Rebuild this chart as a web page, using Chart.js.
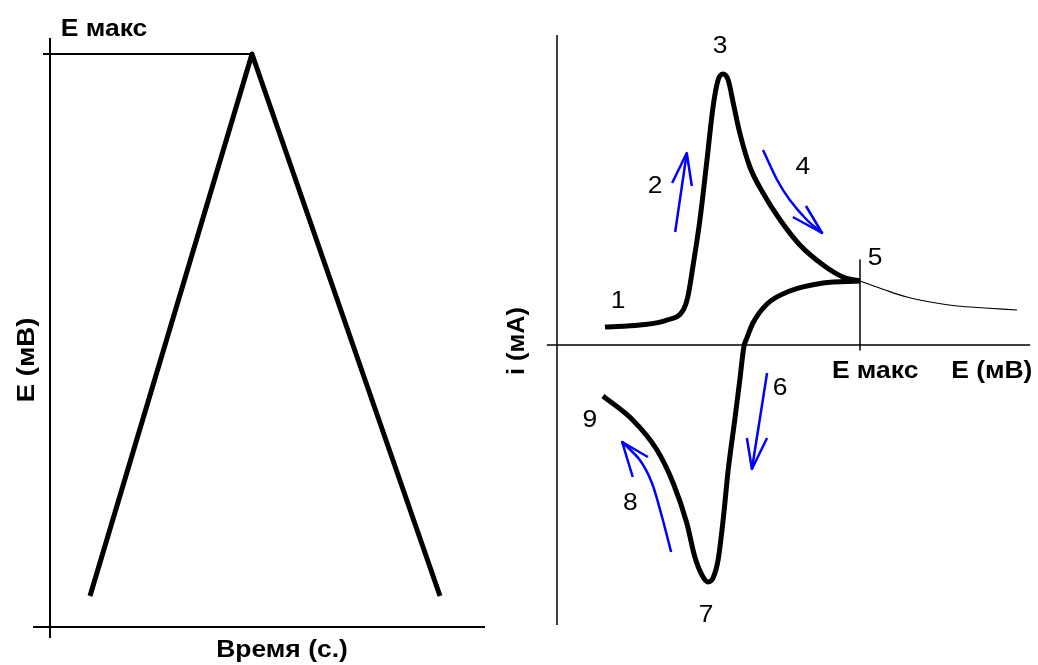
<!DOCTYPE html>
<html>
<head>
<meta charset="utf-8">
<script src="https://cdn.jsdelivr.net/npm/chart.js@4"></script>
<style>
  html, body { margin: 0; padding: 0; background: #fff; }
  canvas { display: block; }
</style>
</head>
<body>
<canvas id="grafico" width="1038" height="665"></canvas>
<script>
// Развёртка потенциала: время (с) и потенциал (мВ)
var tempo = [1, 5.05, 9.75];
var potencial = [27, 500, 27];
var Emax = 500;

// Циклическая вольтамперограмма: прямой ход (E, мВ / i, мА)
var eIda = [95, 164, 218, 250, 259, 269, 283, 297, 309, 319, 329, 339, 349, 362, 382, 408, 442, 481, 527, 566, 600];
var iIda = [0.18, 0.20, 0.25, 0.35, 0.48, 0.78, 1.25, 1.85, 2.38, 2.65, 2.71, 2.65, 2.42, 2.12, 1.78, 1.52, 1.25, 1.00, 0.80, 0.68, 0.64];

// обратный ход
var eVolta = [600, 527, 461, 416, 388, 376, 370, 362, 352, 339, 329, 319, 309, 299, 287, 273, 257, 230, 198, 150, 91];
var iVolta = [0.64, 0.62, 0.54, 0.41, 0.22, 0.07, -0.02, -0.35, -0.75, -1.25, -1.75, -2.15, -2.33, -2.37, -2.30, -2.12, -1.78, -1.38, -1.05, -0.75, -0.51];

// продолжение без обращения развёртки
var eCauda = [600, 650, 693, 739, 792, 848, 911];
var iCauda = [0.64, 0.55, 0.48, 0.43, 0.39, 0.37, 0.35];
var EmaxCV = 600;

// синие стрелки: стержень и наконечник
var setas = [
  { e: [234, 257], i: [1.13, 1.92], pe: [228, 257, 267], pi: [1.62, 1.92, 1.59] },
  { e: [408, 436, 461, 495, 525], i: [1.95, 1.65, 1.45, 1.25, 1.12], pe: [467, 525, 493], pi: [1.28, 1.12, 1.39] },
  { e: [416, 386], i: [-0.28, -1.24], pe: [376, 386, 416], pi: [-0.93, -1.24, -0.93] },
  { e: [226, 208, 188, 164, 129], i: [-2.07, -1.72, -1.38, -1.15, -0.97], pe: [150, 129, 180], pi: [-1.32, -0.97, -1.12] }
];

// номера точек кривой
var numeros = ['1', '2', '3', '4', '5', '6', '7', '8', '9'];
var numerosE = [121, 194, 323, 487, 630, 442, 295, 145, 65];
var numerosI = [0.37, 1.52, 2.92, 1.71, 0.80, -0.50, -2.77, -1.65, -0.82];

function pontos(xs, ys) {
    return xs.map(function (x, k) { return { x: x, y: ys[k] }; });
}

function linha(data, eixoX, eixoY, largura, cor, tensao) {
    return {
        data: data,
        xAxisID: eixoX,
        yAxisID: eixoY,
        showLine: true,
        borderColor: cor || '#000',
        borderWidth: largura,
        pointRadius: 0,
        tension: tensao || 0,
        borderCapStyle: 'butt',
        borderJoinStyle: 'round',
        clip: false,
        fill: false
    };
}

function curva(data, largura) {
    var d = linha(data, 'xE', 'yI', largura);
    d.cubicInterpolationMode = 'monotone';
    return d;
}

var datasets = [
    // оси левого графика
    linha([{ x: 0, y: -9.6 }, { x: 0, y: 514 }], 'xT', 'yE', 2),
    linha([{ x: -0.425, y: 0 }, { x: 10.875, y: 0 }], 'xT', 'yE', 2),
    linha([{ x: -0.175, y: Emax }, { x: 5.05, y: Emax }], 'xT', 'yE', 2),
    linha(pontos(tempo, potencial), 'xT', 'yE', 5),
    // оси правого графика
    linha([{ x: 0, y: -2.8 }, { x: 0, y: 3.1 }], 'xE', 'yI', 1.5),
    linha([{ x: -20, y: 0 }, { x: 937, y: 0 }], 'xE', 'yI', 1.5),
    linha([{ x: EmaxCV, y: 0.85 }, { x: EmaxCV, y: -0.05 }], 'xE', 'yI', 1.5),
    curva(pontos(eCauda, iCauda), 1.2),
    curva(pontos(eIda, iIda), 5),
    curva(pontos(eVolta, iVolta), 5)
];

setas.forEach(function (s) {
    datasets.push(linha(pontos(s.e, s.i), 'xE', 'yI', 2.5, '#0000ff', 0.3));
    datasets.push(linha(pontos(s.pe, s.pi), 'xE', 'yI', 2.5, '#0000ff', 0));
});

function texto(ctx, t, x, y, fonte, esticar, girar, base) {
    ctx.save();
    ctx.translate(x, y);
    if (girar) ctx.rotate(-Math.PI / 2);
    ctx.scale(esticar, 1);
    ctx.font = fonte;
    ctx.fillStyle = '#000';
    ctx.textAlign = 'center';
    ctx.textBaseline = base || 'alphabetic';
    ctx.fillText(t, 0, 0);
    ctx.restore();
}

// подписи осей и номера точек
var rotulos = {
    id: 'rotulos',
    afterDatasetsDraw: function (chart) {
        var ctx = chart.ctx;
        var s = chart.scales;
        var negrito = 'bold 23px "Liberation Sans", Arial, sans-serif';
        var normal = '24px "Liberation Sans", Arial, sans-serif';

        texto(ctx, 'E макс', s.xT.getPixelForValue(1.35), s.yE.getPixelForValue(515.7), negrito, 1.15);
        texto(ctx, 'Время (с.)', s.xT.getPixelForValue(5.8), s.yE.getPixelForValue(-26.2), negrito, 1.15);
        texto(ctx, 'E (мВ)', s.xT.getPixelForValue(-0.55), s.yE.getPixelForValue(233), negrito, 1.2, true, 'middle');

        texto(ctx, 'E макс', s.xE.getPixelForValue(630), s.yI.getPixelForValue(-0.33), negrito, 1.15);
        texto(ctx, 'E (мВ)', s.xE.getPixelForValue(861), s.yI.getPixelForValue(-0.33), negrito, 1.15);
        texto(ctx, 'i (мА)', s.xE.getPixelForValue(-77), s.yI.getPixelForValue(0.04), negrito, 1.1, true, 'middle');

        numeros.forEach(function (n, k) {
            texto(ctx, n, s.xE.getPixelForValue(numerosE[k]), s.yI.getPixelForValue(numerosI[k]), normal, 1.1);
        });
    }
};

new Chart(document.getElementById('grafico'), {
    type: 'scatter',
    data: { datasets: datasets },
    options: {
        responsive: false,
        animation: false,
        devicePixelRatio: 1,
        layout: { padding: 0 },
        plugins: { legend: { display: false }, tooltip: { enabled: false } },
        scales: {
            xT: { type: 'linear', axis: 'x', display: false, min: -1.25, max: 24.7 },
            yE: { type: 'linear', axis: 'y', display: false, min: -33.16, max: 547.1 },
            xE: { type: 'linear', axis: 'x', display: false, min: -1103, max: 952.5 },
            yI: { type: 'linear', axis: 'y', display: false, min: -3.2, max: 3.45 }
        }
    },
    plugins: [rotulos]
});
</script>
</body>
</html>
